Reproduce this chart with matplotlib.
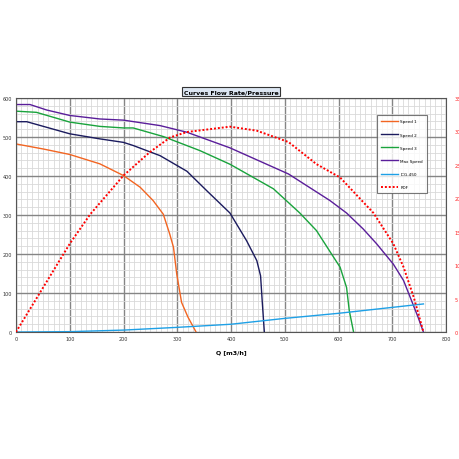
import numpy as np
import matplotlib
matplotlib.use("Agg")
import matplotlib.pyplot as plt
from matplotlib.ticker import MultipleLocator

# flow rate Q [m3/h] / pressure [Pa]
q_speed1 = [0, 51, 100, 156, 200, 231, 255, 274, 286, 293, 299, 308, 320, 335]
p_speed1 = [482, 469, 455, 431, 401, 371, 337, 302, 251, 217, 149, 76, 38, 0]

q_speed2 = [0, 20, 100, 156, 200, 218, 268, 318, 355, 398, 429, 448, 455, 458, 462]
p_speed2 = [539, 539, 508, 495, 486, 478, 452, 412, 362, 305, 234, 183, 144, 80, 0]

q_speed3 = [0, 38, 100, 156, 200, 218, 274, 342, 398, 479, 528, 559, 587, 603, 615, 620, 628]
p_speed3 = [566, 563, 538, 527, 523, 523, 501, 465, 430, 367, 305, 260, 200, 166, 114, 55, 0]

q_max = [0, 26, 57, 100, 156, 200, 268, 318, 398, 507, 584, 615, 646, 671, 702, 721, 736, 748, 758]
p_max = [583, 583, 569, 555, 546, 543, 529, 512, 472, 405, 337, 305, 264, 226, 174, 132, 80, 38, 0]

q_icg = [0, 100, 200, 300, 400, 500, 600, 758]
p_icg = [0, 1, 5, 12, 20, 35, 48, 72]

q_pdf = [0, 100, 138, 200, 249, 287, 318, 398, 448, 507, 559, 603, 665, 702, 721, 740, 758]
v_pdf = [0, 13.2, 17.6, 23.4, 26.9, 29.1, 29.9, 30.7, 30.1, 28.4, 25.1, 23.1, 17.8, 13.2, 9.7, 5.2, 0]

x_ticks = [0, 100, 200, 300, 400, 500, 600, 700, 800]
y_ticks = [0, 100, 200, 300, 400, 500, 600]
y2_ticks = [0, 5, 10, 15, 20, 25, 30, 35]

fig = plt.figure(figsize=(4.6, 4.6), dpi=100)
ax = fig.add_axes([0.0348, 0.276, 0.9348, 0.509])

ax.set_xlim(0, 800)
ax.set_ylim(0, 600)
ax.xaxis.set_minor_locator(MultipleLocator(10))
ax.yaxis.set_minor_locator(MultipleLocator(20))
ax.set_xticks(x_ticks)
ax.set_yticks(y_ticks)
ax.grid(which="minor", color="#d9d9d9", lw=0.6)
ax.grid(which="major", color="#858585", lw=1.0)
ax.set_axisbelow(True)
ax.tick_params(which="both", length=0, labelsize=3.5, pad=3, colors="#333333")
for s in ax.spines.values():
    s.set_color("#555555")
    s.set_linewidth(0.8)

ax.plot(q_speed1, p_speed1, color="#f26522", lw=1.0, label="Speed 1")
ax.plot(q_speed2, p_speed2, color="#1b1b5e", lw=1.0, label="Speed 2")
ax.plot(q_speed3, p_speed3, color="#19a33c", lw=1.0, label="Speed 3")
ax.plot(q_max, p_max, color="#5a1e9a", lw=1.0, label="Max Speed")
ax.plot(q_icg, p_icg, color="#1ea0e6", lw=1.0, label="ICG-450")

ax2 = ax.twinx()
ax2.set_ylim(0, 35)
ax2.set_yticks(y2_ticks)
ax2.tick_params(length=0, labelsize=3.5, pad=6, colors="#ff2020")
for s in ax2.spines.values():
    s.set_visible(False)
ax2.plot(q_pdf, v_pdf, color="#ff0000", lw=1.4, ls=(0, (1, 1)), label="PDF")

h1, l1 = ax.get_legend_handles_labels()
h2, l2 = ax2.get_legend_handles_labels()
leg = ax2.legend(h1 + h2, l1 + l2, loc="upper left", bbox_to_anchor=(0.835, 0.935),
                 fontsize=3, frameon=True, fancybox=False, handlelength=4,
                 labelspacing=2.2, borderpad=1.0, handletextpad=0.6)
leg.get_frame().set_edgecolor("#555555")
leg.get_frame().set_linewidth(0.8)

ax.set_title("Curves Flow Rate/Pressure", fontsize=4.5, fontweight="bold", y=0.985,
             bbox=dict(facecolor="#dce6f2", edgecolor="#333333", lw=0.8, pad=1.2))
ax.set_xlabel("Q [m3/h]", fontsize=4.5, fontweight="bold", labelpad=6)

fig.savefig("out.png", dpi=100)
